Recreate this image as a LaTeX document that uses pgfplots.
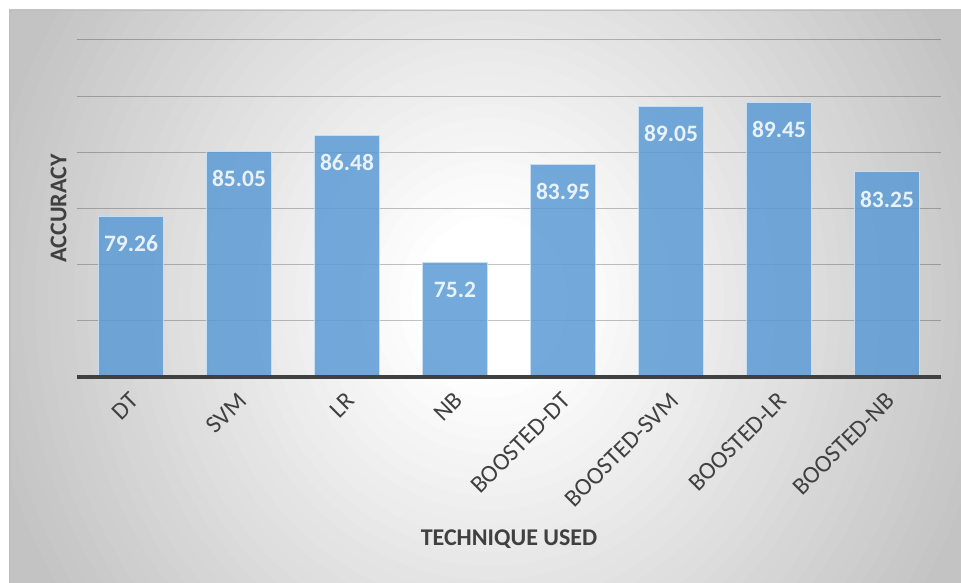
\documentclass[border=0pt]{standalone}
\usepackage{pgfplots}
\pgfplotsset{compat=1.18}
\usepackage{fontspec}
\setmainfont{Carlito}
\definecolor{txtgrey}{RGB}{64,64,64}
\definecolor{barblue}{RGB}{91,155,213}
\begin{document}
\begin{tikzpicture}[x=1pt,y=1pt]
\useasboundingbox (0pt,0pt) rectangle (961pt,583pt);
\begin{scope}
\clip (9pt,0pt) rectangle (961pt,573pt);
\fill[black!23.5] (9pt,0pt) rectangle (961pt,573pt);
\foreach \i in {0,...,47}{
  \pgfmathsetmacro{\t}{1.2*(1-\i/48)}
  \pgfmathsetmacro{\g}{(255-60*min(1,max(0,(\t-0.15)/0.85)))/255}
  \definecolor{tmpc}{gray}{\g}
  \fill[tmpc] (490pt,283pt) ellipse ({520pt*\t} and {560pt*\t});
}
\end{scope}
\draw[color=black!25, line width=1.5pt] (9.75pt,0pt) -- (9.75pt,572.25pt) -- (961pt,572.25pt);
\begin{axis}[
  name=ax,
  at={(77pt,206pt)}, anchor=south west,
  scale only axis, width=864pt, height=337pt,
  xmin=-0.5, xmax=7.5, ymin=65, ymax=95,
  ytick={65,70,...,95}, yticklabels={},
  ymajorgrids, grid style={black, opacity=0.24, line width=1pt},
  axis line style={draw=none}, tick style={draw=none},
  xtick={0,...,7},
  xticklabels={DT,SVM,LR,NB,BOOSTED-DT,BOOSTED-SVM,BOOSTED-LR,BOOSTED-NB},
  xticklabel style={rotate=45, anchor=north east, xshift=-5pt, yshift=-2pt, font=\fontsize{24.5}{28}\selectfont, text=txtgrey},
  every axis x label/.style={at={(rel axis cs:0.5,-0.4807)}, anchor=center},
  every axis y label/.style={at={(rel axis cs:-0.0081,0.5)}, rotate=90, anchor=south},
  xlabel={\fontsize{24}{28}\selectfont\bfseries TECHNIQUE USED},
  ylabel={\fontsize{24}{28}\selectfont\bfseries ACCURACY},
  label style={text=txtgrey},
  ybar, bar width=0.6,
  nodes near coords,
  /pgf/number format/assume math mode=true,
  every node near coord/.append style={anchor=center, yshift=-27pt, font=\fontsize{23.5}{27}\selectfont\bfseries, text=white},
]
\addplot[fill=barblue, fill opacity=0.85, draw={rgb,255:red,200;green,222;blue,242}, line width=1pt]
  coordinates {(0,79.26) (1,85.05) (2,86.48) (3,75.2) (4,83.95) (5,89.05) (6,89.45) (7,83.25)};
\end{axis}
\draw[color=txtgrey, line width=4pt] (ax.south west) -- (ax.south east);
\end{tikzpicture}
\end{document}
